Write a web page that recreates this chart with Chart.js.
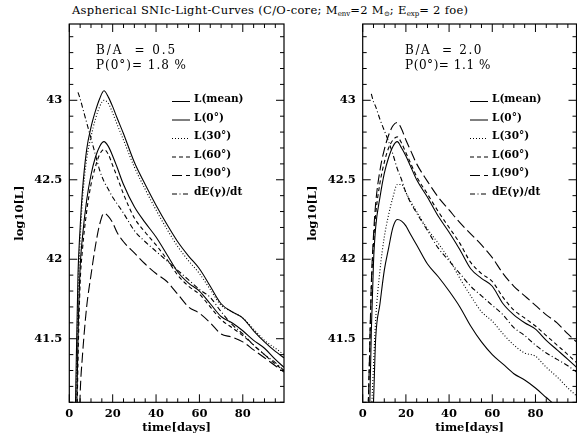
<!DOCTYPE html>
<html>
<head>
<meta charset="utf-8">
<script src="https://cdn.jsdelivr.net/npm/chart.js@4.4.0/dist/chart.umd.min.js"></script>
<style>
  body { margin: 0; width: 577px; height: 437px; overflow: hidden; background: #fff; position: relative; }
  #title { position: absolute; left: 72px; top: 3px; white-space: nowrap;
           font: 11.5px "DejaVu Serif"; letter-spacing: 0.3px; color: #000; }
  #title sub { font-size: 7px; vertical-align: -2px; letter-spacing: 0; }
  .panel { position: absolute; top: 0; height: 437px; }
  #p1 { left: 0; width: 290px; }
  #p2 { left: 290px; width: 295px; }
</style>
</head>
<body>
<div id="title">Aspherical SNIc-Light-Curves (C/O-core; M<sub>env</sub>=2 M<sub>&#8857;</sub>; E<sub>exp</sub>= 2 foe)</div>
<div class="panel" id="p1"><canvas id="left"></canvas></div>
<div class="panel" id="p2"><canvas id="right"></canvas></div>
<script>
// === data (time in days, log10 L) ===
const days = [2, 3, 4, 5, 6, 8, 10, 12, 14, 16, 18, 20, 22, 25, 30, 35, 40, 45, 50, 55, 60, 65, 70, 75, 80, 85, 90, 95, 99];

// B/A = 0.5
const leftMean   = [39.8, 40.7, 41.5, 41.95, 42.13, 42.37, 42.53, 42.64, 42.71, 42.74, 42.71, 42.65, 42.58, 42.47, 42.33, 42.23, 42.14, 42.03, 41.92, 41.85, 41.80, 41.72, 41.64, 41.60, 41.55, 41.49, 41.44, 41.37, 41.32];
const leftZero   = [40.4, 41.2, 41.9, 42.2, 42.42, 42.69, 42.83, 42.93, 43.01, 43.06, 43.02, 42.96, 42.89, 42.79, 42.61, 42.47, 42.34, 42.22, 42.11, 42.02, 41.94, 41.83, 41.72, 41.67, 41.63, 41.55, 41.48, 41.42, 41.38];
const leftThirty = [40.3, 41.05, 41.75, 42.12, 42.36, 42.63, 42.77, 42.88, 42.96, 43.0, 42.98, 42.92, 42.85, 42.75, 42.58, 42.44, 42.31, 42.19, 42.08, 41.99, 41.91, 41.81, 41.71, 41.67, 41.63, 41.56, 41.49, 41.44, 41.40];
const leftSixty  = [39.6, 40.5, 41.35, 41.85, 42.05, 42.30, 42.47, 42.58, 42.66, 42.69, 42.66, 42.59, 42.52, 42.41, 42.26, 42.17, 42.09, 42.00, 41.90, 41.83, 41.78, 41.70, 41.62, 41.57, 41.52, 41.46, 41.40, 41.34, 41.30];
const leftNinety = [39.5, 40.0, 40.6, 41.15, 41.38, 41.70, 41.90, 42.08, 42.22, 42.29, 42.27, 42.23, 42.17, 42.11, 42.04, 41.97, 41.91, 41.86, 41.78, 41.70, 41.66, 41.60, 41.53, 41.51, 41.48, 41.43, 41.38, 41.33, 41.29];
const leftGamma  = [null, null, 43.05, 43.01, 42.96, 42.86, 42.76, 42.66, 42.56, 42.49, 42.44, 42.39, 42.35, 42.29, 42.18, 42.11, 42.05, 41.99, 41.93, 41.87, 41.81, 41.76, 41.67, 41.59, 41.53, 41.46, 41.40, 41.35, 41.30];

// B/A = 2.0
const rightMean   = [40.2, 40.9, 41.55, 41.98, 42.2, 42.39, 42.54, 42.64, 42.71, 42.74, 42.70, 42.65, 42.59, 42.50, 42.39, 42.27, 42.17, 42.06, 41.94, 41.88, 41.83, 41.72, 41.65, 41.60, 41.56, 41.49, 41.43, 41.37, 41.32];
const rightZero   = [39.5, 40.2, 40.8, 41.1, 41.5, 41.72, 41.93, 42.07, 42.20, 42.25, 42.24, 42.21, 42.16, 42.09, 41.97, 41.89, 41.80, 41.70, 41.58, 41.48, 41.40, 41.34, 41.28, 41.24, 41.19, 41.13, 41.07, 41.0, 40.95];
const rightThirty = [39.8, 40.5, 41.0, 41.33, 41.62, 41.93, 42.14, 42.28, 42.39, 42.47, 42.47, 42.42, 42.37, 42.30, 42.19, 42.10, 42.00, 41.88, 41.77, 41.67, 41.61, 41.53, 41.46, 41.41, 41.39, 41.32, 41.26, 41.19, 41.14];
const rightSixty  = [40.8, 41.3, 41.82, 42.1, 42.28, 42.48, 42.61, 42.70, 42.75, 42.77, 42.73, 42.67, 42.61, 42.52, 42.41, 42.30, 42.20, 42.10, 41.98, 41.91, 41.86, 41.76, 41.68, 41.63, 41.58, 41.52, 41.46, 41.40, 41.35];
const rightNinety = [40.8, 41.3, 41.85, 42.15, 42.35, 42.56, 42.69, 42.78, 42.84, 42.86, 42.82, 42.75, 42.69, 42.60, 42.49, 42.39, 42.31, 42.23, 42.16, 42.09, 42.01, 41.91, 41.83, 41.77, 41.71, 41.65, 41.60, 41.53, 41.48];
const rightGamma  = [null, null, 43.04, 42.99, 42.96, 42.88, 42.81, 42.74, 42.66, 42.57, 42.50, 42.42, 42.36, 42.29, 42.18, 42.07, 41.99, 41.91, 41.83, 41.77, 41.71, 41.65, 41.57, 41.52, 41.46, 41.41, 41.37, 41.33, 41.29];

const seriesLabels = ['L(mean)', 'L(0°)', 'L(30°)', 'L(60°)', 'L(90°)', 'dE(γ)/dt'];
const xTicks = [0, 20, 40, 60, 80];
const yTicks = [41.5, 42, 42.5, 43];
const leftNote = ['B/A  = 0.5', 'P(0°)= 1.8 %'];
const rightNote = ['B/A  = 2.0', 'P(0°)= 1.1 %'];

// line styles: solid, solid, dotted, dashed, long dash, dash-dot
const dashes = [[], [], [1, 2], [4, 3], [10, 4], [5, 2.5, 1, 2.5]];

function points(vals) {
    return days.map((d, i) => ({ x: d, y: vals[i] })).filter(p => p.y !== null);
}

function spacedText(ctx, str, x, y, width) {
    ctx.letterSpacing = '0px';
    const w = ctx.measureText(str).width;
    ctx.letterSpacing = ((width - w) / str.length).toFixed(2) + 'px';
    ctx.fillText(str, x, y);
    ctx.letterSpacing = '0px';
}

// frame, inward ticks, legend, notes and axis titles
const panelPlugin = {
    id: 'panel',
    afterDraw(chart, args, o) {
        const { ctx, chartArea: a, scales: { x, y } } = chart;
        ctx.save();
        ctx.strokeStyle = '#000';
        ctx.fillStyle = '#000';
        ctx.lineWidth = 1.2;
        ctx.strokeRect(a.left, a.top, a.right - a.left, a.bottom - a.top);

        ctx.lineWidth = 1;
        ctx.beginPath();
        for (let d = 0; d <= x.max; d += 5) {
            const px = x.getPixelForValue(d);
            const len = d % 20 === 0 ? 8 : 4;
            ctx.moveTo(px, a.bottom); ctx.lineTo(px, a.bottom - len);
            ctx.moveTo(px, a.top); ctx.lineTo(px, a.top + len);
        }
        for (let k = Math.ceil(y.min * 10); k <= Math.floor(y.max * 10); k++) {
            const py = y.getPixelForValue(k / 10);
            const len = k % 5 === 0 ? 8 : 4;
            ctx.moveTo(a.left, py); ctx.lineTo(a.left + len, py);
            ctx.moveTo(a.right, py); ctx.lineTo(a.right - len, py);
        }
        ctx.stroke();

        // legend
        ctx.font = 'bold 10.5px "DejaVu Serif"';
        ctx.textBaseline = 'middle';
        ctx.textAlign = 'left';
        chart.data.datasets.forEach((ds, i) => {
            const ly = 99.5 + i * 18.5;
            const lx = a.left + o.legendX;
            ctx.setLineDash(ds.borderDash);
            ctx.lineWidth = 1;
            ctx.beginPath();
            ctx.moveTo(lx, ly + 2); ctx.lineTo(lx + 18, ly + 2);
            ctx.stroke();
            ctx.setLineDash([]);
            ctx.fillText(ds.label, lx + 22, ly);
        });

        // notes
        ctx.font = '12px "DejaVu Serif"';
        spacedText(ctx, o.note[0], a.left + o.noteX, 51, o.noteW[0]);
        spacedText(ctx, o.note[1], a.left + o.noteX, 65.5, o.noteW[1]);

        // axis titles
        ctx.font = 'bold 11.5px "DejaVu Serif"';
        ctx.textAlign = 'center';
        ctx.fillText('time[days]', (a.left + a.right) / 2, 428);
        ctx.save();
        ctx.translate(o.yTitleX, (a.top + a.bottom) / 2);
        ctx.rotate(-Math.PI / 2);
        ctx.fillText('log10[L]', 0, 0);
        ctx.restore();
        ctx.restore();
    }
};

function makePanel(id, series, yWidth, rightPad, opts) {
    const tickFont = { family: 'DejaVu Serif', size: 11.5, weight: 'bold' };
    return new Chart(document.getElementById(id), {
        type: 'line',
        data: {
            datasets: series.map((vals, i) => ({
                label: seriesLabels[i],
                data: points(vals),
                borderColor: '#000',
                borderWidth: 1.1,
                borderDash: dashes[i],
                pointRadius: 0,
                fill: false,
                cubicInterpolationMode: 'monotone'
            }))
        },
        options: {
            responsive: true,
            maintainAspectRatio: false,
            animation: false,
            layout: { padding: { top: 24, right: rightPad, left: 0, bottom: 0 } },
            plugins: { legend: { display: false }, tooltip: { enabled: false }, panel: opts },
            scales: {
                x: {
                    type: 'linear', min: 0, max: 99,
                    grid: { display: false, drawTicks: false }, border: { display: false },
                    afterBuildTicks: s => { s.ticks = xTicks.map(v => ({ value: v })); },
                    ticks: { padding: 5, color: '#000', font: tickFont, callback: v => String(v) },
                    afterFit: s => { s.height = 34.7; }
                },
                y: {
                    min: 41.1, max: 43.48,
                    grid: { display: false, drawTicks: false }, border: { display: false },
                    afterBuildTicks: s => { s.ticks = yTicks.map(v => ({ value: v })); },
                    ticks: { padding: 7, color: '#000', font: tickFont, callback: v => String(v) },
                    afterFit: s => { s.width = yWidth; }
                }
            }
        },
        plugins: [panelPlugin]
    });
}

makePanel('left', [leftMean, leftZero, leftThirty, leftSixty, leftNinety, leftGamma], 69.3, 6,
    { legendX: 102.7, noteX: 26.7, noteW: [81, 91], note: leftNote, yTitleX: 20 });
makePanel('right', [rightMean, rightZero, rightThirty, rightSixty, rightNinety, rightGamma], 72.7, 8.5,
    { legendX: 107.3, noteX: 42.3, noteW: [78, 86], note: rightNote, yTitleX: 23 });
</script>
</body>
</html>
